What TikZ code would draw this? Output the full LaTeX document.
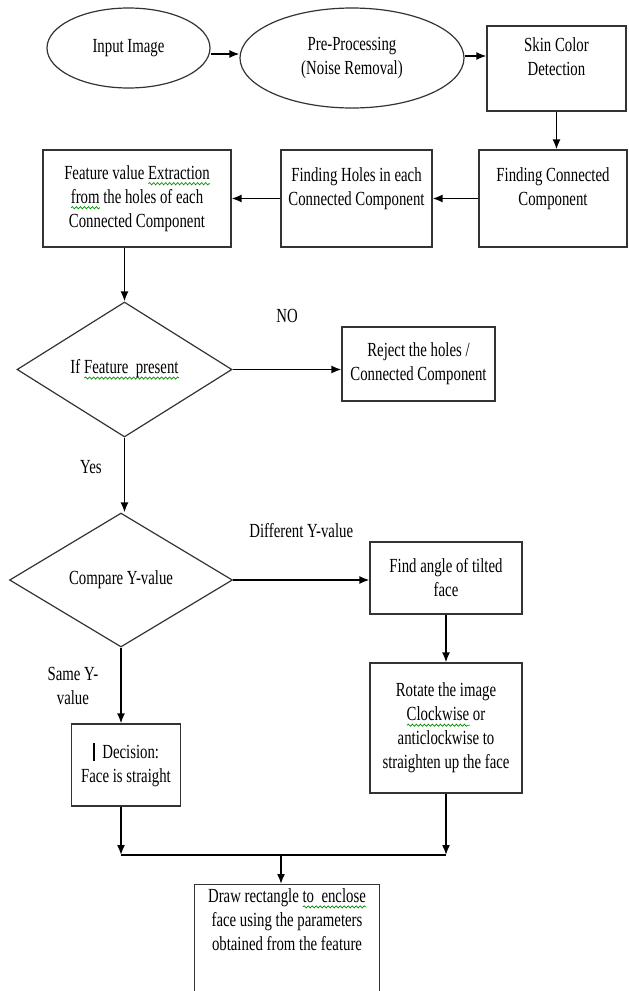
\documentclass[tikz,border=0pt]{standalone}
\usepackage{fontspec}
\setmainfont{Liberation Serif}[FakeStretch=0.74]
\usetikzlibrary{shapes,arrows.meta,decorations.pathmorphing}

% spell-check wave under a word
\newsavebox{\squigbox}
\newlength{\squigwd}
\newcommand{\squig}[1]{\sbox{\squigbox}{#1}\setlength{\squigwd}{\wd\squigbox}\leavevmode\rlap{\tikz[baseline=0pt]\draw[green!55!black, line width=0.35pt, decorate, decoration={snake, amplitude=0.55pt, segment length=2pt}] (0pt,-2.2pt) -- (\squigwd,-2.2pt);}\usebox{\squigbox}}

\begin{document}
\begin{tikzpicture}[x=0.5pt, y=0.5pt, auto]
        % Define block styles
        \tikzstyle{oval} = [ellipse, draw=black!80, line width=0.6pt, inner sep=0pt, align=center]
        \tikzstyle{block} = [rectangle, draw=black!80, line width=0.6pt, inner sep=2pt, align=center]
        \tikzstyle{decision} = [diamond, draw=black!80, line width=0.6pt, inner sep=0pt, align=center]
        \tikzstyle{tag} = [align=center, inner sep=1pt]
        \tikzstyle{line} = [draw, line width=0.8pt, -{Latex[length=5pt, width=4pt]}]

        \useasboundingbox (0,0) rectangle (628,-991);
        \clip (0,0) rectangle (628,-991);

        % Nodes
        \node [oval, minimum width=81.5pt, minimum height=40pt] (input) at (128.5,-48) {Input Image};
        \node [oval, minimum width=112pt, minimum height=50pt] (pre) at (352,-58) {Pre-Processing\\(Noise Removal)};
        \node [block, minimum width=69.5pt, minimum height=42.5pt] (skin) at (556.5,-68.5) {Skin Color\\Detection\\~};
        \node [block, minimum width=74pt, minimum height=48.5pt] (conn) at (553,-198.5) {Finding Connected\\Component\\~};
        \node [block, minimum width=75.5pt, minimum height=48.5pt] (holes) at (356.5,-198.5) {Finding Holes in each\\Connected Component\\~};
        \node [block, minimum width=94pt, minimum height=48.5pt] (extract) at (137,-198.5) {Feature value \squig{Extraction}\\\squig{from} the holes of each\\Connected Component};
        \node [decision, minimum width=107.5pt, minimum height=67.5pt] (present) at (124.5,-369.5) {If \squig{Feature\ \ present}};
        \node [block, minimum width=76.5pt, minimum height=37pt] (reject) at (418.5,-364) {Reject the holes /\\Connected Component};
        \node [decision, minimum width=111.5pt, minimum height=67pt] (compare) at (121,-580) {Compare Y-value};
        \node [block, minimum width=76pt, minimum height=36pt] (angle) at (446,-578) {Find angle of tilted\\face};
        \node [block, minimum width=76pt, minimum height=65pt, below of=angle, node distance=75pt] (rotate) {Rotate the image\\\squig{Clockwise} or\\anticlockwise to\\straighten up the face};
        \node [block, minimum width=54.5pt, minimum height=41pt] (straight) at (126,-765) {\rule[-1pt]{1pt}{9pt}\ \ Decision:\\Face is straight};
        \node [block, minimum width=92.5pt, anchor=north] (enclose) at (287,-884) {Draw rectangle \squig{to\ \ enclose}\\face using the parameters\\obtained from the feature\\~\\~\\~};
        \coordinate (merge) at (281,-855);

        % Arrows
        \path [line] ([yshift=-3pt]input.east) -- ([yshift=-3pt]input.east -| pre.west);
        \path [line] ([yshift=1pt]pre.east) -- ([yshift=1pt]pre.east -| skin.west);
        \path [line] (skin.south) -- (skin.south |- conn.north);
        \path [line] (conn) -- (holes);
        \path [line] (holes) -- (extract);
        \path [line] (extract.south -| present.north) -- (present.north);
        \path [line] (present.east) -- node[tag, above=22pt] {NO} (present.east -| reject.west);
        \path [line] (present.south) -- node[tag, left=10pt, pos=0.4] {Yes} (present.south |- compare.north);
        \path [line] (compare.east) -- node[tag, above=20pt] {Different Y-value} (compare.east -| angle.west);
        \path [line] (angle) -- (rotate);
        \path [line] (compare.south) -- node[tag, left=10pt] {Same Y-\\value} (compare.south |- straight.north);
        \path [line] (straight.south -| compare.south) -- (compare.south |- merge);
        \path [line] (rotate.south) -- (rotate.south |- merge);
        \draw [line width=0.8pt] (compare.south |- merge) -- (rotate.south |- merge);
        \path [line] (merge) -- (merge |- enclose.north);
    \end{tikzpicture}
\end{document}
